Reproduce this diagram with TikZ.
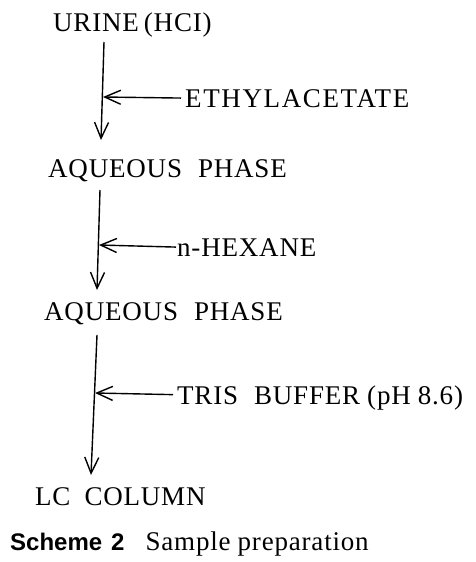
\documentclass[tikz,border=0pt]{standalone}
\usepackage{fontspec}
\setmainfont{Liberation Serif}
\newfontfamily\capsans{Liberation Sans}
\usetikzlibrary{arrows.meta}
\newcommand{\wgap}{\hspace{16pt}}
\tikzset{
  lbl/.style={anchor=base west, inner sep=0pt, text depth=0pt,
    font=\fontsize{27}{30}\selectfont\addfontfeature{LetterSpace=3}},
  arr/.style={line width=1.4pt, -{Straight Barb[length=16pt,width=14pt,line width=1.4pt]}},
}
\begin{document}
\begin{tikzpicture}[x=1pt,y=-1pt]
\useasboundingbox (0,0) rectangle (476,562);
% texts
\node[lbl] (urine) at (53,31) {URINE\hspace{5pt}(HCI)};
\node[lbl] (eth) at (185,107) {\addfontfeature{LetterSpace=6}ETHYLACETATE};
\node[lbl] (aq1) at (48,177) {AQUEOUS\wgap PHASE};
\node[lbl] (hex) at (177,256) {n-HEXANE};
\node[lbl] (aq2) at (44,320) {AQUEOUS\wgap PHASE};
\node[lbl] (tris) at (177,404) {TRIS\wgap BUFFER\hspace{7pt}(pH\hspace{7pt}8.6)};
\node[lbl] (lc) at (35,505) {LC\hspace{14pt}COLUMN};
\node[anchor=base west, inner sep=0pt] (cap) at (10,550)
  {{\capsans\bfseries\fontsize{24}{28}\selectfont Scheme\hspace{9pt}2}\hspace{21pt}{\fontsize{27}{30}\selectfont\addfontfeature{LetterSpace=3}Sample\hspace{7pt}preparation}};
% junction points on the main lines
\coordinate (v1s) at (104,42);
\coordinate (v1e) at (101,140);
\coordinate (j1) at (103,97);
\coordinate (v2s) at (100,190);
\coordinate (v2e) at (97,290);
\coordinate (j2) at (99,245);
\coordinate (v3s) at (97,335);
\coordinate (v3e) at (91,475);
\coordinate (j3) at (95,393);
% connectors
\draw[arr] (v1s) -- (v1e);
\draw[arr] ([xshift=-4pt]eth.west) -- (j1);
\draw[arr] (v2s) -- (v2e);
\draw[arr] ([xshift=-1pt]hex.west) -- (j2);
\draw[arr] (v3s) -- (v3e);
\draw[arr] ([xshift=-4pt]tris.west) -- (j3);
\end{tikzpicture}
\end{document}
